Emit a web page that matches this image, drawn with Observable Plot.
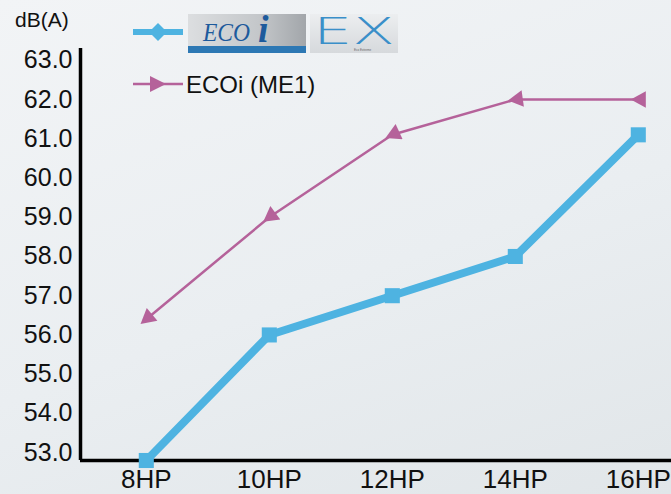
<!DOCTYPE html>
<html><head><meta charset="utf-8">
<script src="https://cdn.jsdelivr.net/npm/d3@7"></script>
<script src="https://cdn.jsdelivr.net/npm/@observablehq/plot@0.6"></script>
<style>
html,body{margin:0;padding:0;}
body{width:671px;height:494px;overflow:hidden;position:relative;
  background:linear-gradient(160deg,#f2f4f6 0%,#eaeef1 55%,#e1e6e9 100%);
  font-family:"Liberation Sans",Arial,sans-serif;}
#chart{position:absolute;left:0;top:0;}
#unit{position:absolute;left:15px;top:8px;font-size:21px;color:#111;line-height:24px;}
#legend{position:absolute;left:0;top:0;width:671px;height:110px;pointer-events:none;}
</style>
</head><body>
<div id="chart"></div>
<div id="unit">dB(A)</div>
<svg id="legend" width="671" height="110">
  <defs>
    <linearGradient id="g1" x1="0" y1="0" x2="1" y2="0">
      <stop offset="0" stop-color="#dcdee0"/><stop offset="0.6" stop-color="#c4c7ca"/><stop offset="1" stop-color="#a2a6aa"/>
    </linearGradient>
    <linearGradient id="g2" x1="0" y1="0" x2="0" y2="1">
      <stop offset="0" stop-color="#eceef0"/><stop offset="1" stop-color="#d6d9dc"/>
    </linearGradient>
  </defs>
  <line x1="133" y1="32" x2="183" y2="32" stroke="#4eb3e1" stroke-width="6"/>
  <path d="M158,23L167,32L158,41L149,32Z" fill="#4eb3e1"/>
  <rect x="188" y="14" width="118" height="39" fill="url(#g1)"/>
  <rect x="188" y="46" width="118" height="7" fill="#2d78b4"/>
  <text x="203" y="41" font-family="Liberation Serif, DejaVu Serif, serif" font-style="italic" font-size="26" fill="#1d5a9c" textLength="47" lengthAdjust="spacingAndGlyphs">ECO</text>
  <text x="258" y="42" font-family="Liberation Serif, DejaVu Serif, serif" font-style="italic" font-weight="bold" font-size="38" fill="#1d5a9c">i</text>
  <rect x="310" y="14" width="88" height="39" fill="url(#g2)"/>
  <text x="313" y="44" font-family="DejaVu Sans, Liberation Sans, sans-serif" font-weight="200" font-size="37" fill="#3a8fc9" textLength="82" lengthAdjust="spacingAndGlyphs">EX</text>
  <text x="354" y="51" font-family="Liberation Sans, sans-serif" font-size="3" fill="#666">Eco Extreme</text>
  <line x1="133" y1="84" x2="183" y2="84" stroke="#b5629a" stroke-width="2.5"/>
  <path d="M150,76L166,84L150,92Z" fill="#b5629a"/>
  <text x="186" y="93" font-family="Liberation Sans, Arial, sans-serif" font-size="24" fill="#111">ECOi (ME1)</text>
</svg>
<script>
const categories = ["8HP", "10HP", "12HP", "14HP", "16HP"];
const hp = [8, 10, 12, 14, 16];
const ecoiEX = [52.8, 56.0, 57.0, 58.0, 61.1];
const ecoiME1 = [56.4, 59.0, 61.1, 62.0, 62.0];
const yTicks = [53, 54, 55, 56, 57, 58, 59, 60, 61, 62, 63];

const BLUE = "#4eb3e1", PINK = "#b5629a";
const exData = hp.map((h, i) => ({hp: h, v: ecoiEX[i]}));
const me1Data = hp.map((h, i) => ({hp: h, v: ecoiME1[i]})).reverse();
const xMin = 6.93, yMin = 52.8;

const plot = Plot.plot({
  width: 671, height: 494,
  marginLeft: 80, marginRight: 0, marginTop: 48, marginBottom: 34,
  style: {background: "transparent", fontFamily: "Liberation Sans, Arial, sans-serif", color: "#111"},
  x: {type: "linear", domain: [xMin, 16.54]},
  y: {domain: [yMin, 63.3]},
  marks: [
    Plot.axisX({ticks: hp, tickFormat: d => categories[hp.indexOf(d)], tickSize: 0, tickPadding: 9, fontSize: 26, label: null}),
    Plot.axisY({ticks: yTicks, tickFormat: d => d.toFixed(1), tickSize: 0, tickPadding: 8, fontSize: 25, label: null}),
    Plot.ruleY([yMin], {stroke: "#000", strokeWidth: 3.5}),
    Plot.ruleX([xMin], {stroke: "#000", strokeWidth: 3.5}),
    Plot.line(me1Data, {x: "hp", y: "v", stroke: PINK, strokeWidth: 2.5, marker: "arrow"}),
    Plot.line(exData, {x: "hp", y: "v", stroke: BLUE, strokeWidth: 8}),
    Plot.dot(exData, {x: "hp", y: "v", symbol: "square", r: 8.5, fill: BLUE})
  ]
});
d3.select(plot).selectAll("marker")
  .attr("stroke", "none").attr("fill", PINK)
  .selectAll("path")
  .attr("d", "M-4.5,-5L4.5,0L-4.5,5Z").attr("fill", PINK).attr("stroke", "none");
d3.select(plot).selectAll("text").attr("fill", "#111");
document.getElementById("chart").appendChild(plot);
</script>
</body></html>
